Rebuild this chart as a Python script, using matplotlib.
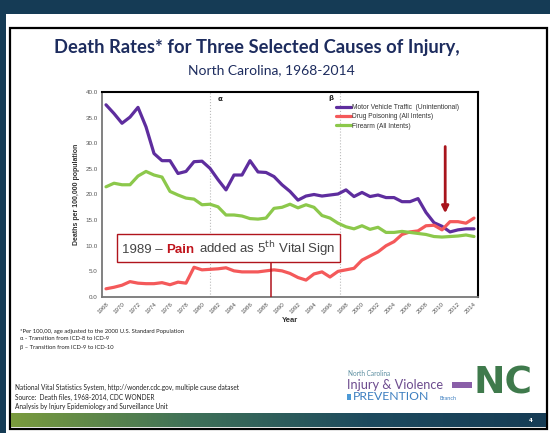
import numpy as np
import matplotlib
matplotlib.use("Agg")
import matplotlib.pyplot as plt
from matplotlib.patches import Rectangle
from matplotlib.offsetbox import TextArea, HPacker, AnchoredOffsetbox

# data
years = list(range(1968, 2015))
motor_vehicle = [37.5, 35.8, 33.9, 35.1, 37.0, 33.2, 28.0, 26.6, 26.6, 24.1, 24.5, 26.4,
                 26.5, 25.1, 22.9, 20.9, 23.8, 23.8, 26.6, 24.4, 24.3, 23.5,
                 21.9, 20.6, 18.9, 19.7, 20.0, 19.7, 19.9, 20.1, 20.9, 19.6,
                 20.4, 19.6, 19.9, 19.4, 19.4, 18.6, 18.6, 19.2, 16.5, 14.5,
                 13.8, 12.7, 13.1, 13.3, 13.3]
drug_poisoning = [1.6, 1.9, 2.3, 3.0, 2.7, 2.6, 2.6, 2.8, 2.4, 2.9, 2.7, 5.8,
                  5.3, 5.4, 5.5, 5.7, 5.1, 4.9, 4.9, 4.9, 5.1, 5.3,
                  5.1, 4.6, 3.8, 3.3, 4.5, 4.9, 3.9, 5.0, 5.3, 5.6,
                  7.2, 8.0, 8.8, 10.0, 10.8, 12.2, 12.7, 12.9, 13.9, 14.0,
                  13.1, 14.7, 14.7, 14.4, 15.4]
firearm = [21.5, 22.2, 21.9, 21.9, 23.6, 24.5, 23.8, 23.4, 20.6, 19.9, 19.3, 19.1,
           18.0, 18.1, 17.6, 16.0, 16.0, 15.8, 15.3, 15.2, 15.4, 17.3,
           17.5, 18.1, 17.4, 18.0, 17.5, 15.9, 15.4, 14.4, 13.7, 13.3,
           13.9, 13.2, 13.6, 12.6, 12.6, 12.8, 12.6, 12.4, 12.2, 11.8,
           11.7, 11.8, 11.9, 12.1, 11.8]
series_labels = ["Motor Vehicle Traffic  (Unintentional)",
                 "Drug Poisoning (All Intents)",
                 "Firearm (All Intents)"]
series_colors = ["#5e2d9e", "#f4595a", "#8cc84b"]
icd_changes = [1981, 1997.3]
icd_marks = ["α", "β"]

W, H = 550, 433
fig = plt.figure(figsize=(W / 100, H / 100), dpi=100, facecolor="#153b55")

# slide background, drawn in pixel coordinates
bg = fig.add_axes([0, 0, 1, 1])
bg.set_xlim(0, W)
bg.set_ylim(H, 0)
bg.axis("off")
bg.add_patch(Rectangle((6, 14), W - 6, H - 14, facecolor="white", edgecolor="none"))
bg.add_patch(Rectangle((10, 28), 537, 401, facecolor="none", edgecolor="black", lw=1.6))
grad = np.linspace(0, 1, 256).reshape(1, -1)
cmap = matplotlib.colors.LinearSegmentedColormap.from_list(
    "bar", ["#7a9b3e", "#3f7158", "#1d4a5e", "#163c55"])
bg.imshow(grad, cmap=cmap, aspect="auto", extent=(11, 546, 427, 413), zorder=2)
bg.text(531, 421, "4", color="white", fontsize=4, fontweight="bold", ha="center", va="center", zorder=3)

bg.text(257, 47, "Death Rates* for Three Selected Causes of Injury,", ha="center", va="center",
        fontsize=13.2, fontweight="bold", color="#1d2c5e", family="Lato")
bg.text(271, 70, "North Carolina, 1968-2014", ha="center", va="center",
        fontsize=10, color="#1d2c5e", family="Lato")

notes = ["*Per 100,00, age adjusted to the 2000 U.S. Standard Population",
         "α - Transition from ICD-8 to ICD-9",
         "β – Transition from ICD-9 to ICD-10"]
for i, s in enumerate(notes):
    bg.text(20, 331 + 8 * i, s, fontsize=4.2, color="#222222", va="center", family="Lato")

src = ["National Vital Statistics System, http://wonder.cdc.gov, multiple cause dataset",
       "Source:  Death files, 1968-2014, CDC WONDER",
       "Analysis by Injury Epidemiology and Surveillance Unit"]
for i, s in enumerate(src):
    bg.text(15, 387 + 10 * i, s, fontsize=4.7, color="#222222", va="center", family="Lato")

# logo
bg.text(348, 374, "North Carolina", fontsize=4.7, color="#5b8ea0", va="center", family="Lato")
bg.text(347, 385, "Injury & Violence", fontsize=9.2, color="#6d4c8f", va="center", family="Lato")
bg.add_patch(Rectangle((452, 382), 20, 6, facecolor="#8a5fa8", edgecolor="none"))
bg.add_patch(Rectangle((347, 394), 4, 6, facecolor="#4d9ad6", edgecolor="none"))
bg.text(353, 397, "PREVENTION", fontsize=8.8, color="#3d7fc0", va="center", family="Lato")
bg.text(440, 399, "Branch", fontsize=4, color="#3d7fc0", va="center", family="Lato")
bg.text(503, 384, "NC", fontsize=27, fontweight="heavy", color="#3f7a4c", ha="center",
        va="center", family="DejaVu Sans")

# chart
ax = fig.add_axes([102 / W, 1 - 297 / H, 376 / W, 205 / H])
ax.set_facecolor("white")
for y, c, lab in zip([motor_vehicle, drug_poisoning, firearm], series_colors, series_labels):
    ax.plot(years, y, color=c, lw=2.3, label=lab, solid_capstyle="round", zorder=3)

ax.set_xlim(1967.5, 2014.5)
ax.set_ylim(0, 40)
ax.set_yticks(np.arange(0, 41, 5))
ax.set_yticklabels(["%.1f" % v for v in np.arange(0, 41, 5)], fontsize=4.5, color="#555555",
                   family="Liberation Sans")
ax.set_xticks(years[::2])
ax.set_xticklabels([str(y) for y in years[::2]], rotation=45, ha="right", rotation_mode="anchor",
                   fontsize=4.5, color="#555555", family="Liberation Sans")
ax.tick_params(length=0, pad=3)
ax.set_xlabel("Year", fontsize=5.5, fontweight="bold", color="#333333", labelpad=2,
              family="Liberation Sans")
ax.set_ylabel("Deaths per 100,000 population", fontsize=5, fontweight="bold", color="#333333",
              labelpad=4, family="Liberation Sans")
for side in ["top", "right"]:
    ax.spines[side].set_color("black")
    ax.spines[side].set_linewidth(1.5)
for side in ["left", "bottom"]:
    ax.spines[side].set_color("#777777")
    ax.spines[side].set_linewidth(1.3)

for x in icd_changes:
    ax.axvline(x, color="#bbbbbb", lw=0.8, ls=":", zorder=1)
for x, m, dx, yy in zip(icd_changes, icd_marks, [1.2, -1.2], [38.6, 38.9]):
    ax.text(x + dx, yy, m, fontsize=5, fontweight="bold", ha="center", va="center", color="#222222")

leg = ax.legend(loc="upper left", bbox_to_anchor=(0.615, 0.955), frameon=False,
                handlelength=2.3, handletextpad=0.1, labelspacing=0.35, borderaxespad=0,
                prop={"family": "Liberation Sans", "size": 4.8})
for t in leg.get_texts():
    t.set_color("#333333")

# 1989 annotation
parts = [TextArea("1989 –", textprops=dict(color="#444444", fontsize=9.5, family="Liberation Sans")),
         TextArea("Pain", textprops=dict(color="#c0141c", fontsize=9.5, fontweight="bold",
                                         family="Liberation Sans")),
         TextArea("added as 5$^{\\mathrm{th}}$ Vital Sign",
                  textprops=dict(color="#444444", fontsize=9.5, family="Liberation Sans"))]
box = HPacker(children=parts, align="baseline", pad=0, sep=3)
anchored = AnchoredOffsetbox(loc="center", child=box, pad=0.35, borderpad=0, frameon=True,
                             bbox_to_anchor=(1983.3, 9.55), bbox_transform=ax.transData)
anchored.patch.set_edgecolor("#b0141c")
anchored.patch.set_linewidth(1.0)
anchored.patch.set_boxstyle("square", pad=0)
anchored.zorder = 5
ax.add_artist(anchored)
ax.plot([1988.6, 1988.6], [0, 7.4], color="#b0141c", lw=1.1, zorder=4)

ax.annotate("", xy=(2010.4, 15.8), xytext=(2010.4, 29.9),
            arrowprops=dict(arrowstyle="-|>", color="#a8141c", lw=2.0, mutation_scale=10))

fig.savefig("out.png", dpi=100, facecolor=fig.get_facecolor())
